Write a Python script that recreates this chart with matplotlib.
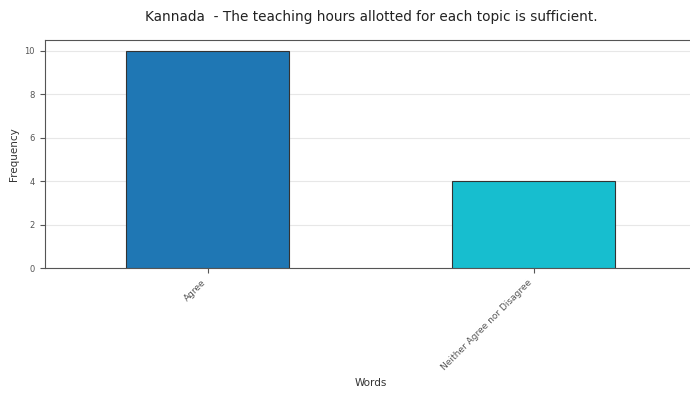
import matplotlib
matplotlib.use("Agg")
import matplotlib.pyplot as plt

categories = ["Agree", "Neither Agree nor Disagree"]
counts = [10, 4]
colors = ["#1f77b4", "#17becf"]

fig = plt.figure(figsize=(6.9, 3.96), dpi=100)
ax = fig.add_axes([0.0645, 0.323, 0.945, 0.576])

x = list(range(len(categories)))
ax.bar(x, counts, width=0.5, color=colors, edgecolor="#333333", linewidth=0.8, zorder=3)
ax.set_xlim(-0.5, len(categories) - 0.5)
ax.set_ylim(0, 10.5)
ax.set_xticks(x)
ax.set_xticklabels(categories, rotation=45, ha="right", fontsize=6.5, color="#333333")
ax.set_yticks([0, 2, 4, 6, 8, 10])
ax.tick_params(axis="y", labelsize=6, labelcolor="#333333")
ax.tick_params(colors="#555555")
ax.grid(True, axis="y", alpha=0.3, zorder=0)
for spine in ax.spines.values():
    spine.set_color("#555555")

ax.set_xlabel("Words", fontsize=7.5, color="#333333")
ax.set_ylabel("Frequency", fontsize=7.5, color="#333333")
fig.text(0.538, 0.957, "Kannada  - The teaching hours allotted for each topic is sufficient.",
         ha="center", va="center", fontsize=9.8, color="#222222")

fig.savefig("out.png", dpi=100)
